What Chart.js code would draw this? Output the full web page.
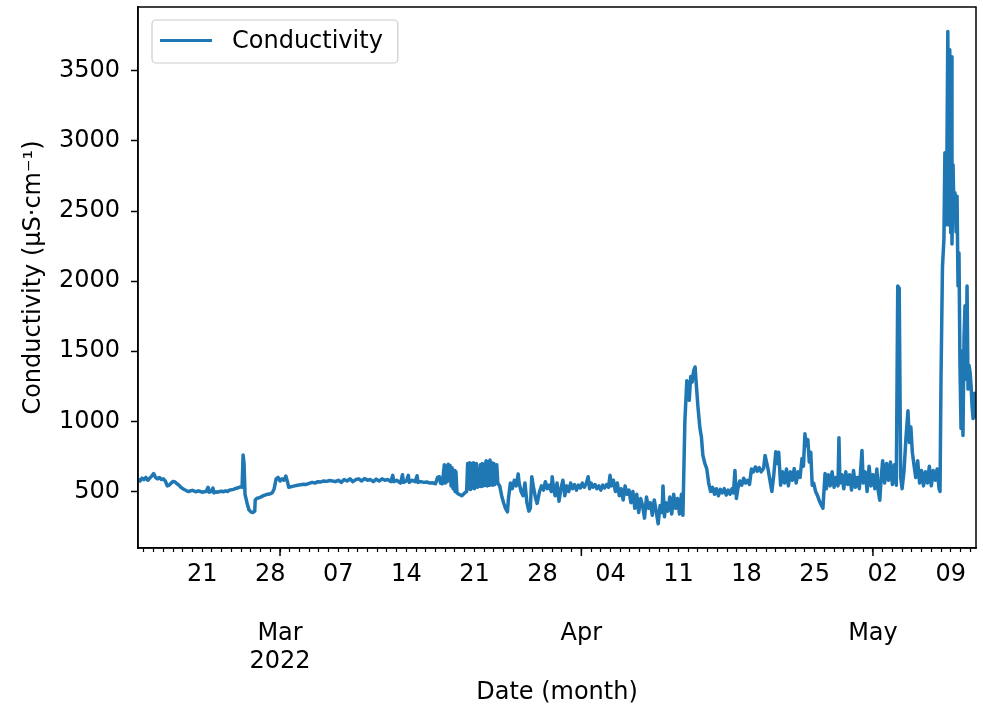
<!DOCTYPE html>
<html><head><meta charset="utf-8">
<script src="https://cdn.jsdelivr.net/npm/chart.js@4.4.1/dist/chart.umd.min.js"></script>
<style>html,body{margin:0;padding:0;background:#fff}#wrap{width:983px;height:710px}</style>
</head><body><div id="wrap"><canvas id="c" width="983" height="710"></canvas></div>
<script>
// Days since 2022-02-14 00:00
const dayOffsets = [
0.4,0.6,0.8,1.0,1.2,1.4,1.6,1.8,2.0,2.2,2.4,2.6,2.8,3.0,3.2,3.4,3.6,3.8,4.0,4.2,4.4,4.6,4.8,5.0,5.2,5.4,5.6,5.8,6.0,6.2,6.4,6.6,6.8,7.0,7.2,7.4,7.6,7.7,7.9,8.1,8.2,8.4,8.6,8.8,9.0,9.2,9.4,9.6,9.8,10.0,10.2,10.4,10.6,10.8,11.0,11.1,11.2,11.3,11.4,11.6,11.8,12.0,12.2,12.4,12.45,12.6,12.8,13.0,13.3,13.6,13.9,14.2,14.4,14.6,14.8,15.0,15.2,15.4,15.6,15.8,15.9,16.2,16.5,16.8,17.1,17.4,17.7,18.0,18.3,18.6,18.9,19.2,19.5,19.8,20.1,20.4,
20.7,21.0,21.3,21.6,21.9,22.2,22.5,22.8,23.1,23.4,23.7,24.0,24.3,24.6,24.9,25.2,25.5,25.8,26.1,26.4,26.6,26.7,27.0,27.4,27.6,27.7,28.0,28.2,28.3,28.6,28.9,29.1,29.2,29.5,29.8,30.1,30.4,30.7,31.0,31.2,31.4,31.5,31.7,31.9,32.0,32.1,32.2,32.3,32.4,32.5,32.6,32.7,32.8,32.9,33.0,33.1,33.2,33.4,33.7,34.0,34.2,34.3,34.4,34.5,34.6,34.7,34.8,34.9,35.0,35.2,35.3,35.5,35.6,35.7,35.8,35.9,36.0,36.1,36.2,36.3,36.4,36.5,36.6,36.7,36.8,36.9,37.0,37.1,37.3,37.4,37.6,37.8,38.0,38.2,38.4,38.5,38.7,38.9,39.1,39.3,39.5,39.6,39.8,40.0,40.2,40.4,40.6,40.75,
40.9,41.1,41.3,41.45,41.7,41.9,42.1,42.3,42.5,42.7,42.9,43.0,43.15,43.3,43.5,43.7,43.9,44.1,44.3,44.5,44.7,44.9,45.1,45.3,45.5,45.7,45.9,46.1,46.3,46.5,46.7,46.85,47.0,47.2,47.4,47.6,47.8,48.0,48.2,48.4,48.6,48.8,48.95,49.1,49.3,49.5,49.7,49.9,50.1,50.3,50.5,50.7,50.9,51.1,51.3,51.5,51.7,51.9,52.1,52.3,52.5,52.7,52.9,53.1,53.3,53.5,53.7,53.9,54.1,54.3,54.4,54.55,54.7,54.9,55.1,55.3,55.5,55.7,55.9,56.1,56.3,56.45,56.65,56.85,57.0,57.1,57.25,57.4,57.55,57.7,57.85,58.0,58.2,58.35,58.5,58.7,
58.9,59.1,59.3,59.5,59.7,59.9,60.1,60.3,60.5,60.7,60.9,61.1,61.3,61.5,61.65,61.8,61.95,62.1,62.3,62.5,62.7,62.9,63.1,63.3,63.5,63.7,63.9,64.1,64.3,64.5,64.75,64.9,65.2,65.4,65.6,65.8,66.0,66.15,66.3,66.5,66.7,66.9,67.1,67.3,67.5,67.7,67.9,68.1,68.3,68.5,68.7,68.85,69.0,69.15,69.3,69.45,69.6,69.75,69.9,70.1,70.3,70.5,70.7,70.85,71.07,71.2,71.4,71.6,71.8,72.0,72.2,72.4,72.5,72.6,72.8,73.0,73.2,73.4,73.6,73.8,74.0,74.2,74.4,74.6,74.87,75.0,75.2,75.4,75.6,75.8,76.0,76.2,76.4,76.55,76.7,76.85,77.0,77.2,77.4,77.6,77.8,78.0,78.2,78.4,
78.55,78.7,78.85,79.0,79.2,79.4,79.6,79.75,79.9,80.05,80.2,80.4,80.6,80.8,81.0,81.2,81.4,81.6,81.8,82.0,82.2,82.4,82.6,82.8,82.9,83.0,83.15,83.3,83.4,83.5,83.6,83.7,83.8,83.9,84.0,84.05,84.13,84.24,84.34,84.44,84.55,84.65,84.75,84.85,84.95,85.06,85.16,85.26,85.37,85.47,85.58,85.68,85.78,85.88,85.99,86.1,86.19,86.3,86.45,86.6
];
const conductivity = [
590,575,595,585,600,580,595,610,628,600,590,600,585,590,575,540,545,560,572,568,555,545,530,520,512,505,500,505,508,502,498,505,500,495,498,500,530,495,500,525,490,498,495,500,502,498,505,500,510,512,515,520,525,530,535,530,760,700,480,420,370,355,350,360,440,450,455,460,470,478,482,490,520,590,600,575,590,580,610,560,530,535,540,545,548,552,550,558,565,560,570,568,575,572,578,575,
570,580,565,585,575,590,570,585,590,575,592,580,585,570,588,575,590,580,585,570,615,570,580,560,620,565,575,615,565,580,570,612,565,570,565,568,560,562,555,600,605,560,555,690,560,680,570,695,580,685,540,670,520,650,500,640,490,480,470,490,500,700,520,705,515,700,525,705,520,700,530,540,690,535,700,540,695,545,720,540,710,545,725,550,705,545,700,550,690,560,540,470,420,380,355,450,560,520,580,540,625,560,500,470,560,420,360,380,
605,520,450,415,500,540,510,570,520,545,500,605,520,470,560,430,520,580,470,540,500,560,520,550,510,545,525,560,530,555,605,520,560,530,550,520,540,510,545,525,550,530,615,540,580,500,560,470,520,440,540,480,510,420,500,380,480,350,450,400,310,460,380,420,330,440,360,270,400,350,540,320,420,360,460,340,480,380,450,340,480,330,1000,1290,1250,1150,1320,1280,1360,1388,1240,1100,950,890,760,700,
663,560,500,530,480,520,470,515,490,520,475,510,480,520,490,650,450,520,575,545,595,560,580,550,660,640,675,645,670,640,665,757,663,580,500,620,783,700,780,545,640,560,660,540,640,580,663,560,640,600,735,680,912,827,870,710,780,545,560,500,470,430,400,380,628,520,620,540,640,530,600,540,884,560,620,520,640,550,620,510,650,530,600,520,793,560,640,500,680,540,620,520,660,500,437,600,720,560,700,580,710,550,690,545,
1965,1950,600,520,650,890,1075,850,960,780,700,600,720,560,650,540,640,560,680,540,650,580,660,520,500,1300,2100,2300,2915,2400,2800,3780,2400,3650,2345,3600,2265,2830,2450,2630,2350,2605,1965,2200,1400,950,1500,900,1600,1825,1300,1965,1230,1400,1350,1250,1115,1020,1200,1020
];
const seriesLabel = 'Conductivity';
const yTicks = [500,1000,1500,2000,2500,3000,3500];
const weekTickDays = [7,14,21,28,35,42,49,56,63,70,77,84];
const weekTickLabels = ['21','28','07','14','21','28','04','11','18','25','02','09'];
const monthTickDays = [15,46,76];
const monthTickLabels = [['Mar','2022'],['Apr'],['May']];
const X_MIN = 0.39, X_MAX = 86.6, Y_MIN = 97, Y_MAX = 3955;

const FONT = 'DejaVu Sans';
Chart.defaults.font.family = FONT;
Chart.defaults.font.size = 24;
Chart.defaults.color = '#000';

const points = dayOffsets.map((d, i) => ({x: d, y: conductivity[i]}));

const noPad = (scale) => { scale.paddingTop = 0; scale.paddingBottom = 0; scale.paddingLeft = 0; scale.paddingRight = 0; };

const framePlugin = {
  id: 'frame',
  afterDraw(chart) {
    const {ctx, chartArea: ca, scales} = chart;
    ctx.save();
    ctx.strokeStyle = '#000';
    ctx.lineWidth = 1.5;
    ctx.strokeRect(ca.left, ca.top, ca.right - ca.left, ca.bottom - ca.top);
    monthTickDays.forEach(d => {
      const px = scales.x.getPixelForValue(d);
      ctx.beginPath(); ctx.moveTo(px, ca.bottom); ctx.lineTo(px, ca.bottom + 8); ctx.stroke();
    });
    // legend
    ctx.font = '24px "' + FONT + '"';
    const tw = ctx.measureText(seriesLabel).width;
    const bx = ca.left + 14, by = ca.top + 13, bh = 43, bw = 80 + tw + 15;
    ctx.beginPath();
    ctx.roundRect(bx, by, bw, bh, 4);
    ctx.fillStyle = 'rgba(255,255,255,0.8)';
    ctx.fill();
    ctx.strokeStyle = '#cccccc';
    ctx.lineWidth = 1.2;
    ctx.stroke();
    const my = by + bh / 2 - 1;
    ctx.beginPath();
    ctx.moveTo(bx + 8, my); ctx.lineTo(bx + 60, my);
    ctx.strokeStyle = '#1f77b4'; ctx.lineWidth = 3; ctx.stroke();
    ctx.fillStyle = '#000';
    ctx.textBaseline = 'middle';
    ctx.textAlign = 'left';
    ctx.fillText(seriesLabel, bx + 80, my + 1);
    ctx.restore();
  }
};

new Chart(document.getElementById('c'), {
  type: 'line',
  data: {
    datasets: [{
      label: seriesLabel,
      data: points,
      borderColor: '#1f77b4',
      backgroundColor: '#1f77b4',
      borderWidth: 3.5,
      pointRadius: 0,
      tension: 0,
      borderJoinStyle: 'round',
      fill: false
    }]
  },
  options: {
    responsive: false,
    animation: false,
    devicePixelRatio: 1,
    layout: {padding: {left: 0, right: 7, top: 7, bottom: 0}},
    plugins: {legend: {display: false}, tooltip: {enabled: false}},
    scales: {
      x: {
        type: 'linear', position: 'bottom', weight: 0,
        min: X_MIN, max: X_MAX,
        afterBuildTicks(scale) {
          const t = [];
          for (let d = 1; d <= 86; d++) t.push({value: d});
          scale.ticks = t;
        },
        afterFit(scale) { scale.height = 52; noPad(scale); },
        ticks: {
          autoSkip: false, maxRotation: 0, minRotation: 0, padding: 8,
          callback(v) { const i = weekTickDays.indexOf(v); return i >= 0 ? weekTickLabels[i] : ''; }
        },
        grid: {display: true, drawOnChartArea: false, drawTicks: true, tickLength: 4, color: '#000', tickColor: '#000', tickWidth: 1.2},
        border: {display: true, color: '#000', width: 1.5}
      },
      xm: {
        type: 'linear', position: 'bottom', weight: 1,
        min: X_MIN, max: X_MAX,
        afterBuildTicks(scale) { scale.ticks = monthTickDays.map(d => ({value: d})); },
        afterFit(scale) { scale.height = 110; noPad(scale); },
        ticks: {
          autoSkip: false, maxRotation: 0, minRotation: 0, padding: 20,
          font: {size: 24, lineHeight: 1.15},
          callback(v) { const i = monthTickDays.indexOf(v); return i >= 0 ? monthTickLabels[i] : ''; }
        },
        grid: {display: false, drawTicks: false},
        border: {display: false},
        title: {display: true, text: 'Date (month)', font: {size: 24}, padding: {top: 0, bottom: 3}}
      },
      y: {
        type: 'linear', position: 'left',
        min: Y_MIN, max: Y_MAX,
        afterBuildTicks(scale) { scale.ticks = yTicks.map(v => ({value: v})); },
        afterFit(scale) { scale.width = 138; noPad(scale); },
        ticks: {padding: 11, font: {size: 24}, callback(v) { return String(v); }},
        grid: {display: true, drawOnChartArea: false, drawTicks: true, tickLength: 7, color: '#000', tickColor: '#000', tickWidth: 1.5},
        border: {display: true, color: '#000', width: 1.5},
        title: {display: true, text: 'Conductivity (µS·cm⁻¹)', font: {size: 24}, padding: {top: 19, bottom: 0}}
      }
    }
  },
  plugins: [framePlugin]
});
</script>
</body></html>
